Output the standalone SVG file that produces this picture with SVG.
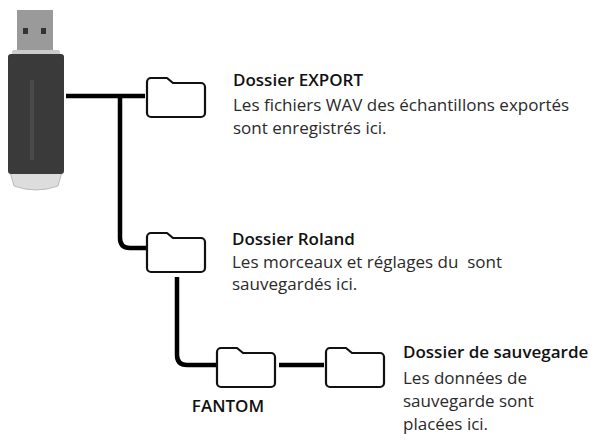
<svg xmlns="http://www.w3.org/2000/svg" width="612" height="445" viewBox="0 0 612 445">
<style>
.f{fill:#fff;stroke:#111;stroke-width:2.2;stroke-linejoin:round}
.c{fill:none;stroke:#000;stroke-width:4.5}
text{font-family:"Open Sans","Liberation Sans",sans-serif;font-size:17px;fill:#2a2a2a}
.t{font-weight:600;fill:#111}
</style>
<defs>
<path id="fd" d="M4,6 h16 l6,5 h28 a4,4 0 0 1 4,4 v26 a4,4 0 0 1 -4,4 h-50 a4,4 0 0 1 -4,-4 v-31 a4,4 0 0 1 4,-4z"/>
</defs>
<rect width="612" height="445" fill="#fff"/>
<g id="usb">
<rect x="17" y="10" width="36" height="44" fill="#9a9a9a"/>
<rect x="23" y="28" width="5" height="6" fill="#333"/><rect x="41" y="28" width="5" height="6" fill="#333"/>
<rect x="12" y="50" width="48" height="6" rx="2" fill="#ccc"/>
<path d="M10,172 h52 l-4,14 q-22,8 -44,0z" fill="#ddd" stroke="#bbb"/>
<rect x="8" y="54" width="56" height="120" rx="3" fill="#3a3a3a"/>
<rect x="30" y="80" width="4" height="80" fill="#4a4a4a"/>
</g>
<g id="connectors">
<path class="c" d="M66,96 H145 M120,96 V238 Q120,248 130,248 H147"/>
<path class="c" d="M177,277 V355 Q177,365 187,365 H216"/>
<path class="c" d="M279,365 H324"/>
</g>
<g id="export"><use href="#fd" x="147" y="72" class="f"/>
<text x="233" y="86" class="t">Dossier EXPORT</text>
<text x="233" y="111">Les fichiers WAV des échantillons exportés</text>
<text x="233" y="134">sont enregistrés ici.</text></g>
<g id="roland"><use href="#fd" x="147" y="227" class="f"/>
<text x="232" y="245" class="t">Dossier Roland</text>
<text x="232" y="268" xml:space="preserve">Les morceaux et réglages du  sont</text>
<text x="232" y="290">sauvegardés ici.</text></g>
<g id="fantom"><use href="#fd" x="217" y="342" class="f"/>
<text x="228" y="412" class="t" text-anchor="middle">FANTOM</text></g>
<g id="save"><use href="#fd" x="326" y="342" class="f"/>
<text x="403" y="358" class="t">Dossier de sauvegarde</text>
<text x="403" y="384">Les données de</text>
<text x="403" y="407">sauvegarde sont</text>
<text x="403" y="430">placées ici.</text></g>
</svg>
